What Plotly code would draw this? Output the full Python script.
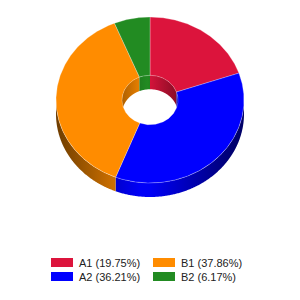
import numpy as np
import plotly.graph_objects as go

# ---- data ----
labels = ["A1", "A2", "B1", "B2"]
values = [19.75, 36.21, 37.86, 6.17]
colors = ["#DC143C", "#0000FF", "#FF8C00", "#228B22"]

# ---- geometry (pixel-like axis units) ----
CX, CY = 150.0, 100.0
RX, RY = 94.0, 83.0
IRX = 28.0
IRY = IRX * RY / RX
DEPTH = 14.0


def hex_rgb(h):
    h = h.lstrip("#")
    return tuple(int(h[i:i + 2], 16) for i in (0, 2, 4))


def scaled(h, f):
    r, g, b = hex_rgb(h)
    return "rgb(%d,%d,%d)" % (round(r * f), round(g * f), round(b * f))


def arc(rx, ry, t0, t1, dy=0.0):
    n = max(2, int(abs(t1 - t0) * 2) + 2)
    t = np.radians(np.linspace(t0, t1, n))
    return CX + rx * np.sin(t), CY - ry * np.cos(t) + dy


def gradient(color, x0, x1, peak, strength, span):
    stops = []
    for p in np.linspace(0, 1, 21):
        x = x0 + p * (x1 - x0)
        f = 1 - strength * min(1.0, abs(x - peak) / span)
        stops.append([float(p), scaled(color, f)])
    return dict(type="horizontal", colorscale=stops, start=x0, stop=x1)


total = sum(values)
angles = []
acc = 0.0
for v in values:
    a0 = acc / total * 360
    acc += v
    a1 = acc / total * 360
    angles.append((a0, a1))

fig = go.Figure()

# outer side walls (front half: 90..270 deg clockwise from top)
for (a0, a1), c in zip(angles, colors):
    s, e = max(a0, 90), min(a1, 270)
    if e <= s:
        continue
    xt, yt = arc(RX, RY, s, e)
    xb, yb = arc(RX, RY, e, s, DEPTH)
    fig.add_trace(go.Scatter(
        x=np.concatenate([xt, xb]), y=np.concatenate([yt, yb]),
        mode="none", fill="toself", fillcolor=c,
        fillgradient=gradient(c, CX - RX, CX + RX, 145, 0.6, RX),
        hoverinfo="skip", showlegend=False))

# inner hole walls (back half: 270..450 deg)
for (a0, a1), c in zip(angles, colors):
    for off in (0, 360):
        s, e = max(a0 + off, 270), min(a1 + off, 450)
        if e <= s:
            continue
        xt, yt = arc(IRX, IRY, s, e)
        xb, yb = arc(IRX, IRY, e, s, DEPTH)
        fig.add_trace(go.Scatter(
            x=np.concatenate([xt, xb]), y=np.concatenate([yt, yb]),
            mode="none", fill="toself", fillcolor=c,
            fillgradient=gradient(c, CX - IRX, CX + IRX, 147, 0.35, IRX),
            hoverinfo="skip", showlegend=False))

# top face
for (a0, a1), c, lab, v in zip(angles, colors, labels, values):
    xo, yo = arc(RX, RY, a0, a1)
    xi, yi = arc(IRX, IRY, a1, a0)
    fig.add_trace(go.Scatter(
        x=np.concatenate([xo, xi, xo[:1]]), y=np.concatenate([yo, yi, yo[:1]]),
        mode="lines", fill="toself", fillcolor=c,
        line=dict(color="rgba(255,255,255,0.35)", width=0.8),
        name=lab, hoverinfo="text",
        text="%s: %.2f%%" % (lab, v / total * 100), showlegend=False))

# legend (custom, two columns)
shapes = []
annotations = []
for i, (lab, v, c) in enumerate(zip(labels, values, colors)):
    col, row = i // 2, i % 2
    x0 = 51 + col * 102
    yc = 262.5 + row * 14
    shapes.append(dict(type="rect", xref="x", yref="y",
                       x0=x0, x1=x0 + 22, y0=yc - 4.5, y1=yc + 4.5,
                       fillcolor=c, line=dict(width=0)))
    annotations.append(dict(xref="x", yref="y", x=x0 + 26, y=yc,
                            xanchor="left", yanchor="middle", showarrow=False,
                            text="%s (%.2f%%)" % (lab, v / total * 100),
                            font=dict(family="Liberation Sans, Arial", size=11,
                                      color="#222222")))

fig.update_layout(
    width=300, height=300,
    margin=dict(l=0, r=0, t=0, b=0),
    paper_bgcolor="white", plot_bgcolor="white",
    xaxis=dict(range=[0, 300], visible=False, fixedrange=True),
    yaxis=dict(range=[300, 0], visible=False, fixedrange=True),
    shapes=shapes, annotations=annotations,
    showlegend=False,
)

fig.write_html("out.html")
